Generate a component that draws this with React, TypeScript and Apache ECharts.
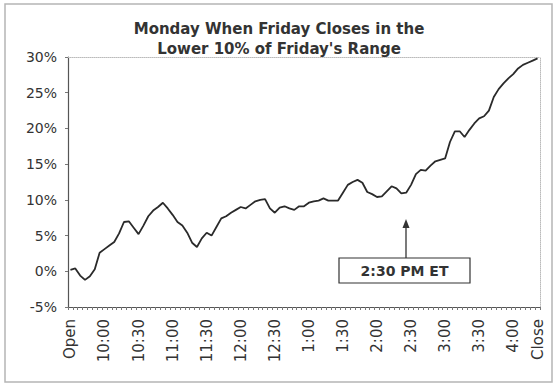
import React, { useEffect, useRef } from "react";
import * as echarts from "echarts";

const titleLines = ["Monday When Friday Closes in the", "Lower 10% of Friday's Range"];

// 97 five-ish-minute categories; every 7th gets a time label, last is "Close"
const timeLabels = [
  "Open", "10:00", "10:30", "11:00", "11:30", "12:00", "12:30",
  "1:00", "1:30", "2:00", "2:30", "3:00", "3:30", "4:00",
];
const closeLabel = "Close";
const labelEvery = 7;

const returns = [
  0.2, 0.4, -0.6, -1.2, -0.7, 0.3, 2.6, 3.1, 3.6, 4.1,
  5.3, 6.9, 7.0, 6.1, 5.2, 6.4, 7.7, 8.5, 9.0, 9.6,
  8.8, 7.9, 6.9, 6.4, 5.4, 4.0, 3.4, 4.6, 5.4, 5.0,
  6.2, 7.4, 7.7, 8.2, 8.6, 9.0, 8.8, 9.3, 9.8, 10.0,
  10.1, 8.8, 8.2, 8.9, 9.1, 8.8, 8.6, 9.1, 9.1, 9.6,
  9.8, 9.9, 10.2, 9.9, 9.9, 9.9, 11.0, 12.1, 12.5, 12.8,
  12.4, 11.1, 10.8, 10.4, 10.5, 11.2, 11.9, 11.6, 10.9, 11.0,
  12.1, 13.6, 14.2, 14.1, 14.8, 15.4, 15.6, 15.8, 18.1, 19.6,
  19.6, 18.8, 19.8, 20.7, 21.4, 21.7, 22.5, 24.4, 25.5, 26.3,
  27.0, 27.6, 28.4, 28.9, 29.2, 29.5, 29.8,
];

const yMin = -5;
const yMax = 30;
const yStep = 5;

const annotationText = "2:30 PM ET";

export default function App() {
  const ref = useRef<HTMLDivElement>(null);

  useEffect(() => {
    if (!ref.current) return;
    const chart = echarts.init(ref.current, undefined, { renderer: "svg" });

    const categories = returns.map((_, i) => {
      if (i === returns.length - 1) return closeLabel;
      if (i % labelEvery === 0 && i / labelEvery < timeLabels.length) return timeLabels[i / labelEvery];
      return "";
    });

    const font = "DejaVu Sans, Verdana, sans-serif";

    chart.setOption({
      animation: false,
      backgroundColor: "#ffffff",
      title: {
        text: titleLines.join("\n"),
        left: "center",
        top: 14,
        textStyle: {
          fontFamily: font,
          fontSize: 15,
          fontWeight: "bold",
          color: "#333333",
          lineHeight: 20,
        },
      },
      grid: { left: 68, right: 18, top: 57, bottom: 80 },
      xAxis: [
        {
          type: "category",
          data: categories,
          boundaryGap: true,
          axisLine: { onZero: false, lineStyle: { color: "#555555", width: 1.2 } },
          axisTick: { show: true, interval: 0, length: 3, lineStyle: { color: "#777777" } },
          axisLabel: {
            interval: 0,
            rotate: 90,
            margin: 12,
            fontFamily: font,
            fontSize: 15,
            color: "#333333",
          },
          splitLine: { show: false },
        },
        {
          type: "category",
          position: "top",
          data: categories,
          axisLine: { onZero: false, lineStyle: { color: "#bbbbbb", type: "dotted" } },
          axisTick: { show: false },
          axisLabel: { show: false },
        },
      ],
      yAxis: [
        {
          type: "value",
          min: yMin,
          max: yMax,
          interval: yStep,
          axisLine: { show: true, onZero: false, lineStyle: { color: "#555555", width: 1.2 } },
          axisTick: { show: true, length: 3, lineStyle: { color: "#777777" } },
          axisLabel: {
            formatter: (v: number) => `${v}%`,
            fontFamily: font,
            fontSize: 14,
            color: "#333333",
            margin: 11,
          },
          splitLine: { show: false },
        },
        {
          type: "value",
          position: "right",
          min: yMin,
          max: yMax,
          interval: yStep,
          axisLine: { show: true, onZero: false, lineStyle: { color: "#bbbbbb", type: "dotted" } },
          axisTick: { show: false },
          axisLabel: { show: false },
          splitLine: { show: false },
        },
      ],
      series: [
        {
          type: "line",
          data: returns,
          showSymbol: false,
          symbol: "none",
          lineStyle: { color: "#2a2a2a", width: 1.8 },
        },
      ],
      graphic: [
        {
          type: "rect",
          shape: { x: 5, y: 4, width: 547, height: 378 },
          style: { fill: "none", stroke: "#b5b5b5", lineWidth: 1.5 },
          silent: true,
        },
        {
          type: "line",
          shape: { x1: 406, y1: 258, x2: 406, y2: 226 },
          style: { stroke: "#333333", lineWidth: 1.3 },
        },
        {
          type: "polygon",
          shape: { points: [[406, 219], [402.5, 228], [409.5, 228]] },
          style: { fill: "#333333" },
        },
        {
          type: "rect",
          shape: { x: 339, y: 258, width: 131, height: 25 },
          style: { fill: "#ffffff", stroke: "#333333", lineWidth: 1.2 },
        },
        {
          type: "text",
          x: 404.5,
          y: 270.5,
          style: {
            text: annotationText,
            fontFamily: font,
            fontSize: 14,
            fontWeight: "bold",
            fill: "#333333",
            align: "center",
            verticalAlign: "middle",
          },
        },
      ],
    });

    return () => chart.dispose();
  }, []);

  return (
    <div
      ref={ref}
      style={{ position: "fixed", left: 0, top: 0, width: 558, height: 387 }}
    />
  );
}
